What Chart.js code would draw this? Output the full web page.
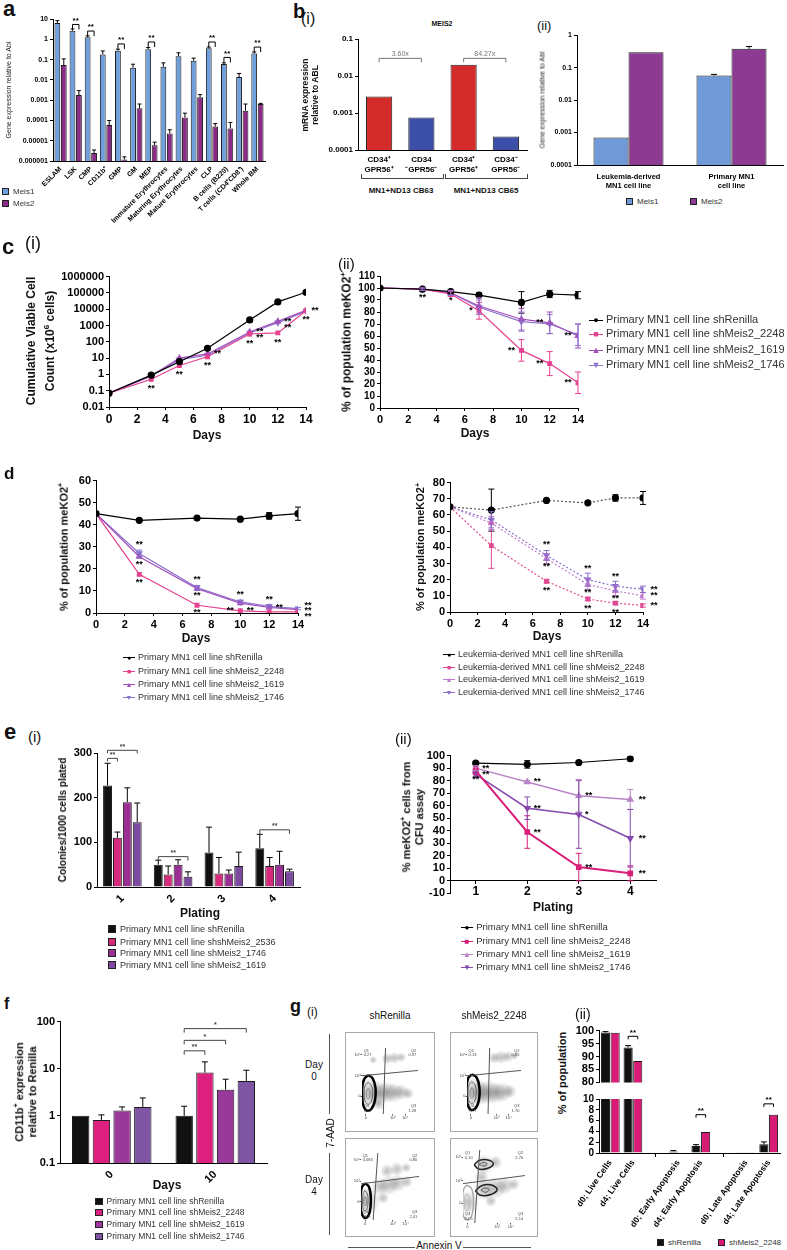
<!DOCTYPE html>
<html>
<head>
<meta charset="utf-8">
<title>Meis2 figure</title>
<script src="https://cdn.jsdelivr.net/npm/chart.js@4.4.1/dist/chart.umd.min.js"></script>
<style>
  html, body { margin: 0; background: #fff; }
  #fig { position: relative; width: 787px; height: 1250px; overflow: hidden; font-family: "Liberation Sans", Arial, sans-serif; color: #111; }
  #fig .t { position: absolute; white-space: nowrap; line-height: 1; }
  #fig canvas { position: absolute; }
</style>
</head>
<body>
<div id="fig"></div>
<script>
const FONT = '"Liberation Sans", Arial, sans-serif';

// a: Meis1 / Meis2 in sorted mouse populations
const aCats = ['ESLAM', 'LSK', 'CMP', 'CD11b⁺', 'GMP', 'GM', 'MEP', 'Immature Erythrocytes', 'Maturing Erythrocytes', 'Mature Erythrocytes', 'CLP', 'B cells (B220)', 'T cells (CD4⁺CD8⁺)', 'Whole BM'];
const aMeis1 = [6.5, 2.7, 1.3, 0.18, 0.28, 0.04, 0.33, 0.045, 0.15, 0.09, 0.37, 0.062, 0.014, 0.2];
const aMeis1Err = [8.5, 3.3, 1.5, 0.27, 0.33, 0.06, 0.4, 0.07, 0.22, 0.12, 0.42, 0.07, 0.021, 0.24];
const aMeis2 = [0.055, 0.0018, 0.0000025, 0.00006, 0.0000012, 0.0004, 0.000006, 0.000023, 0.00014, 0.0014, 0.00005, 0.00004, 0.0003, 0.00065];
const aMeis2Err = [0.11, 0.003, 0.0000035, 0.0001, 0.0000016, 0.00065, 0.0000085, 0.000035, 0.00023, 0.0019, 0.00007, 0.00008, 0.00065, 0.0007];
const aTicks = [1e-6, 1e-5, 1e-4, 1e-3, 1e-2, 0.1, 1, 10];
const aTickLabels = ['0.000001', '0.00001', '0.0001', '0.001', '0.01', '0.1', '1', '10'];
const aSigCats = [1, 2, 4, 6, 10, 11, 13];
const aSigY = [5.5, 2.6, 0.6, 0.75, 0.75, 0.13, 0.42];

// b(i): MEIS2 in human CD34+ GPR56 fractions
const b1Cats = [['CD34⁺', 'GPR56⁺'], ['CD34', '⁻GPR56⁻'], ['CD34⁺', 'GPR56⁺'], ['CD34⁻', 'GPR56⁻']];
const b1Vals = [0.0028, 0.00075, 0.02, 0.00023];
const b1Ticks = [1e-4, 1e-3, 1e-2, 0.1];
const b1TickLabels = ['0.0001', '0.001', '0.01', '0.1'];
const b1Folds = ['3.60x', '84.27x'];
const b1Groups = ['MN1+ND13 CB63', 'MN1+ND13 CB65'];

// b(ii)
const b2Cats = [['Leukemia-derived', 'MN1 cell line'], ['Primary MN1', 'cell line']];
const b2Meis1 = [0.0007, 0.057];
const b2Meis1Err = [null, 0.062];
const b2Meis2 = [0.3, 0.38];
const b2Meis2Err = [null, 0.45];
const b2Ticks = [1e-4, 1e-3, 1e-2, 0.1, 1];
const b2TickLabels = ['0.0001', '0.001', '0.01', '0.1', '1'];

// c: growth and meKO2+ fraction, primary MN1 line
const cNames = ['Primary MN1 cell line shRenilla', 'Primary MN1 cell line shMeis2_2248', 'Primary MN1 cell line shMeis2_1619', 'Primary MN1 cell line shMeis2_1746'];
const cDays = [0, 3, 5, 7, 10, 12, 14];
const c1Renilla = [0.07, 0.9, 6, 40, 2200, 28000, 110000];
const c1M2248 = [0.07, 0.5, 3.5, 12, 300, 350, 8000];
const c1M1619 = [0.07, 0.8, 10, 18, 400, 1800, 8500];
const c1M1746 = [0.07, 0.8, 8, 15, 350, 1500, 7500];
const c1Ticks = [0.01, 0.1, 1, 10, 100, 1000, 10000, 100000, 1000000];
const c1TickLabels = ['0.01', '0.1', '1', '10', '100', '1000', '10000', '100000', '1000000'];
const c2Renilla = [100, 99, 97, 94, 88, 95, 94];
const c2RenillaErr = [0, 1, 1, 2, 9, 3, 3];
const c2M2248 = [100, 99, 95, 81, 48, 37, 21];
const c2M2248Err = [0, 1, 2, 7, 9, 10, 9];
const c2M1619 = [100, 99, 96, 85, 74, 71, 60];
const c2M1619Err = [0, 1, 2, 7, 9, 9, 10];
const c2M1746 = [100, 99, 96, 84, 72, 70, 61];
const c2M1746Err = [0, 1, 2, 6, 8, 8, 9];

// d: competition assays
const dDays = [0, 3, 7, 10, 12, 14];
const d1Renilla = [45, 42, 43, 42.5, 44, 45];
const d1RenillaErr = [0, 0, 0, 0, 1.5, 3];
const d1M2248 = [45, 17.5, 3.5, 1, 0.5, 0.5];
const d1M1619 = [45, 25.5, 11, 4.5, 2.5, 1.5];
const d1M1746 = [45, 27, 11.5, 5, 3, 2];
const d1M1746Err = [0, 1.5, 1, 0.8, 0.8, 0.5];
const d2Names = ['Leukemia-derived MN1 cell line shRenilla', 'Leukemia-derived MN1 cell line shMeis2_2248', 'Leukemia-derived MN1 cell line shMeis2_1619', 'Leukemia-derived MN1 cell line shMeis2_1746'];
const d2Renilla = [65, 63, 69, 67.5, 70.5, 70.5];
const d2RenillaErr = [0, 13, 0, 0, 2, 4];
const d2M2248 = [65, 41, 19, 8, 5.5, 4];
const d2M2248Err = [0, 14, 1, 1, 1, 1];
const d2M1619 = [65, 55, 33, 17, 13, 10];
const d2M1619Err = [0, 4, 3, 3, 3, 2];
const d2M1746 = [65, 57, 35, 20, 16, 14];
const d2M1746Err = [0, 5, 3, 4, 3, 2];

// e(i): colony counts per plating
const eCats = ['1', '2', '3', '4'];
const e1Names = ['Primary MN1 cell line shRenilla', 'Primary MN1 cell line shshMeis2_2536', 'Primary MN1 cell line shMeis2_1746', 'Primary MN1 cell line shMeis2_1619'];
const e1Renilla = [227, 50, 77, 87];
const e1RenillaErr = [277, 60, 134, 118];
const e1M2536 = [110, 28, 30, 47];
const e1M2536Err = [123, 47, 66, 66];
const e1M1746 = [190, 50, 30, 50];
const e1M1746Err = [222, 61, 38, 80];
const e1M1619 = [145, 23, 47, 35];
const e1M1619Err = [188, 34, 78, 40];

// e(ii): meKO2+ from CFU assay
const e2Plating = [1, 2, 3, 4];
const e2Renilla = [94, 93, 94.5, 97.5];
const e2RenillaErr = [1, 3, 0, 0];
const e2M2248 = [88, 39, 11, 6];
const e2M2248Err = [3, 13, 11, 6];
const e2M1619 = [90, 79, 68, 65];
const e2M1619Err = [2, 1, 13, 8];
const e2M1746 = [85, 58, 53, 34];
const e2M1746Err = [2, 9, 27, 23];

// f: CD11b+ relative to Renilla
const fCats = ['0', '10'];
const fRenilla = [1, 1];
const fRenillaErr = [null, 1.6];
const fM2248 = [0.82, 8.3];
const fM2248Err = [1.05, 14];
const fM1619 = [1.3, 3.6];
const fM1619Err = [1.55, 6];
const fM1746 = [1.55, 5.5];
const fM1746Err = [2.4, 9.3];
const fTicks = [0.1, 1, 10, 100];
const fTickLabels = ['0.1', '1', '10', '100'];

// g(i): flow plots (axes 0..1 inside each frame)
const flowCols = ['shRenilla', 'shMeis2_2248'];
const flowGateV = [[[0.38, 0], [0.42, 1]], [[0.39, 0], [0.42, 1]], [[0.21, 0], [0.29, 1]], [[0.19, 0], [0.27, 1]]];
const flowGateH = [[[0, 0.58], [1, 0.66]], [[0, 0.58], [1, 0.66]], [[0, 0.54], [1, 0.65]], [[0, 0.54], [1, 0.65]]];
const flowContours = [
  [
    [[0.11, 0.59], [0.19, 0.54], [0.24, 0.40], [0.23, 0.20], [0.16, 0.07], [0.07, 0.06], [0.01, 0.18], [0.0, 0.38], [0.04, 0.53], [0.11, 0.59]],
    [[0.11, 0.48], [0.17, 0.43], [0.19, 0.31], [0.16, 0.18], [0.10, 0.15], [0.05, 0.21], [0.04, 0.34], [0.06, 0.44], [0.11, 0.48]],
    [[0.11, 0.39], [0.14, 0.35], [0.14, 0.27], [0.11, 0.23], [0.08, 0.26], [0.08, 0.34], [0.11, 0.39]]
  ],
  [
    [[0.09, 0.60], [0.18, 0.55], [0.23, 0.40], [0.22, 0.21], [0.15, 0.08], [0.06, 0.07], [0.0, 0.19], [-0.01, 0.39], [0.02, 0.54], [0.09, 0.60]],
    [[0.09, 0.49], [0.15, 0.44], [0.17, 0.32], [0.14, 0.19], [0.08, 0.16], [0.03, 0.22], [0.02, 0.35], [0.04, 0.45], [0.09, 0.49]],
    [[0.09, 0.40], [0.12, 0.36], [0.12, 0.28], [0.09, 0.24], [0.06, 0.27], [0.06, 0.35], [0.09, 0.40]]
  ],
  [
    [[0.07, 0.55], [0.14, 0.49], [0.17, 0.32], [0.15, 0.12], [0.08, 0.03], [0.01, 0.10], [-0.01, 0.30], [0.01, 0.48], [0.07, 0.55]],
    [[0.07, 0.44], [0.11, 0.39], [0.12, 0.27], [0.10, 0.16], [0.06, 0.14], [0.03, 0.20], [0.03, 0.33], [0.04, 0.41], [0.07, 0.44]],
    [[0.07, 0.35], [0.09, 0.31], [0.09, 0.24], [0.07, 0.21], [0.05, 0.24], [0.05, 0.31], [0.07, 0.35]]
  ],
  [
    [[0.06, 0.52], [0.14, 0.47], [0.17, 0.30], [0.14, 0.10], [0.06, 0.04], [0.0, 0.12], [-0.01, 0.31], [0.01, 0.46], [0.06, 0.52]],
    [[0.06, 0.40], [0.10, 0.36], [0.11, 0.26], [0.08, 0.17], [0.04, 0.18], [0.02, 0.27], [0.03, 0.36], [0.06, 0.40]],
    [[0.18, 0.80], [0.27, 0.86], [0.42, 0.86], [0.49, 0.81], [0.40, 0.75], [0.25, 0.74], [0.18, 0.80]],
    [[0.26, 0.80], [0.32, 0.83], [0.39, 0.81], [0.34, 0.78], [0.26, 0.80]],
    [[0.20, 0.44], [0.30, 0.51], [0.46, 0.52], [0.55, 0.46], [0.45, 0.39], [0.28, 0.38], [0.20, 0.44]],
    [[0.29, 0.45], [0.35, 0.48], [0.42, 0.46], [0.37, 0.42], [0.29, 0.45]]
  ]
];
const flowClouds = [
  [[0.12, 0.32, 16], [0.3, 0.31, 12], [0.44, 0.33, 11], [0.57, 0.32, 10], [0.7, 0.33, 8], [0.82, 0.31, 6], [0.45, 0.84, 6], [0.58, 0.85, 6], [0.7, 0.86, 5], [0.3, 0.15, 6], [0.2, 0.82, 4]],
  [[0.1, 0.33, 16], [0.27, 0.32, 12], [0.4, 0.33, 12], [0.53, 0.32, 11], [0.66, 0.33, 10], [0.79, 0.34, 7], [0.5, 0.85, 6], [0.63, 0.86, 7], [0.76, 0.87, 6], [0.88, 0.88, 4]],
  [[0.08, 0.28, 15], [0.33, 0.5, 9], [0.48, 0.52, 10], [0.63, 0.55, 9], [0.79, 0.57, 6], [0.45, 0.73, 7], [0.62, 0.76, 7], [0.78, 0.78, 5], [0.38, 0.33, 6]],
  [[0.07, 0.28, 12], [0.34, 0.8, 10], [0.52, 0.83, 7], [0.34, 0.46, 11], [0.52, 0.48, 11], [0.67, 0.51, 9], [0.82, 0.53, 6], [0.3, 0.63, 7], [0.45, 0.3, 6]]
];
const flowQuad = [['0,27', '0,37', '98,2', '1,28'], ['0,13', '0,85', '97,7', '1,70'], ['0,083', '0,80', '96,8', '2,41'], ['0,10', '2,76', '91,5', '5,14']];
const flowXTicks = [0.07, 0.55, 0.77];
const flowYTicks = [0.27, 0.58, 0.9];
const flowTickLabels = ['0', '10³', '10⁴'];

// g(ii): viability / apoptosis (broken axis)
const g2Cats = ['d0; Live Cells', 'd4; Live Cells', '', 'd0; Early Apoptosis', 'd4; Early Apoptosis', '', 'd0; Late Apoptosis', 'd4; Late Apoptosis'];
const g2Renilla = [99.3, 93.5, null, 0.3, 1.3, null, 0.05, 1.6];
const g2RenillaErr = [99.6, 94.2, null, 0.45, 1.55, null, null, 2.05];
const g2M2248 = [99.2, 88.3, null, 0.1, 3.9, null, 0.05, 7.1];

// ---------------------------------------------------------------- helpers
const fig = document.getElementById('fig');
Chart.defaults.font.family = FONT;
Chart.defaults.color = '#000';

function txt(html, x, y, css) {
  const d = document.createElement('div');
  d.className = 't';
  d.innerHTML = html;
  d.style.cssText = 'left:' + x + 'px;top:' + y + 'px;' + (css || '');
  fig.appendChild(d);
  return d;
}
const ctxt = (h, cx, cy, css) => txt(h, cx, cy, 'transform:translate(-50%,-50%);text-align:center;' + (css || ''));
const vtxt = (h, cx, cy, css) => txt(h, cx, cy, 'transform:translate(-50%,-50%) rotate(-90deg);text-align:center;' + (css || ''));

function boxLegend(x, y, color, label, fs) {
  txt('<span style="display:inline-block;width:' + (fs - 1) + 'px;height:' + (fs - 1) + 'px;background:' + color +
      ';border:1px solid #222;box-sizing:border-box;vertical-align:-1px;margin-right:4px"></span>' + label,
      x, y - fs * 0.55, 'font-size:' + fs + 'px;color:#333');
}
function lineLegend(x, y, color, sym, label, fs) {
  const w = fs + 3;
  txt('<span style="display:inline-block;width:' + w + 'px;text-align:center;color:' + color + ';font-size:' + Math.round(fs * 0.8) +
      'px;background:linear-gradient(' + color + ',' + color + ') center/100% 1px no-repeat;margin-right:3px">' + sym + '</span>' + label,
      x - w / 2, y - fs * 0.55, 'font-size:' + fs + 'px;color:#333');
}

function merge(a, b) {
  for (const k in b) {
    if (b[k] && typeof b[k] === 'object' && !Array.isArray(b[k]) && a[k] && typeof a[k] === 'object') merge(a[k], b[k]);
    else a[k] = b[k];
  }
  return a;
}
function axis(size, extra) {
  return merge({
    grid: { drawOnChartArea: false, color: '#000', tickLength: 3, lineWidth: 1 },
    border: { color: '#000', width: 1 },
    ticks: { color: '#000', font: { family: FONT, size: size, weight: 'bold' }, padding: 2, autoSkip: false, maxRotation: 0, minRotation: 0 }
  }, extra || {});
}
function fixedTicks(vals, labels) {
  return {
    afterBuildTicks: s => { s.ticks = vals.map(v => ({ value: v })); },
    ticks: { callback: (v, i) => (labels ? labels[i] : v) }
  };
}

// error bars: ds.err[j] = [lo, hi] in data units (lo null -> from the mark)
const errPlugin = {
  id: 'errbars',
  afterDatasetsDraw(chart) {
    const ctx = chart.ctx, ys = chart.scales.y;
    chart.data.datasets.forEach((ds, di) => {
      if (!ds.err) return;
      const meta = chart.getDatasetMeta(di);
      ctx.save();
      ctx.strokeStyle = ds.errColor || ds.borderColor;
      ctx.lineWidth = 1;
      meta.data.forEach((el, j) => {
        const e = ds.err[j];
        if (!e) return;
        const cap = ds.errCap || 3;
        const y1 = ys.getPixelForValue(e[1]);
        const y0 = e[0] == null ? el.y : ys.getPixelForValue(Math.max(e[0], ys.min));
        ctx.beginPath();
        ctx.moveTo(el.x, y0); ctx.lineTo(el.x, y1);
        ctx.moveTo(el.x - cap, y1); ctx.lineTo(el.x + cap, y1);
        if (e[0] != null) { ctx.moveTo(el.x - cap, y0); ctx.lineTo(el.x + cap, y0); }
        ctx.stroke();
      });
      ctx.restore();
    });
  }
};
Chart.register(errPlugin);

function drawNotes(chart, spec) {
  const ctx = chart.ctx;
  const font = spec.font || 'bold 9px ' + FONT;
  (spec.items || []).forEach(it => {
    let x, y;
    if (it.ds != null) { const p = chart.getDatasetMeta(it.ds).data[it.i]; x = p.x; y = p.y; }
    else { x = chart.scales.x.getPixelForValue(it.x); y = chart.scales.y.getPixelForValue(it.y); }
    x += it.dx || 0; y += it.dy || 0;
    ctx.save();
    ctx.font = font; ctx.fillStyle = spec.color || '#000';
    ctx.textAlign = it.align || 'center'; ctx.textBaseline = 'middle';
    String(it.text).split('\n').forEach((ln, k) => ctx.fillText(ln, x, y + k * (spec.lh || 6)));
    ctx.restore();
  });
  (spec.brackets || []).forEach(b => {
    const pa = chart.getDatasetMeta(b.a[0]).data[b.a[1]], pb = chart.getDatasetMeta(b.b[0]).data[b.b[1]];
    const y = chart.scales.y.getPixelForValue(b.y), leg = b.leg == null ? 4 : b.leg;
    ctx.save();
    ctx.strokeStyle = spec.bcolor || '#000'; ctx.lineWidth = 1;
    ctx.beginPath();
    ctx.moveTo(pa.x, y + leg); ctx.lineTo(pa.x, y); ctx.lineTo(pb.x, y); ctx.lineTo(pb.x, y + leg);
    ctx.stroke();
    if (b.text) {
      ctx.font = spec.bfont || font; ctx.fillStyle = spec.bcolor || '#000';
      ctx.textAlign = 'center'; ctx.textBaseline = 'bottom';
      ctx.fillText(b.text, (pa.x + pb.x) / 2, y + (spec.bdy || 0));
    }
    ctx.restore();
  });
}

// plot = [left, top, right, bottom] of the chart area on the page
function chartAt(plot, geo, config, spec) {
  const yw = geo.yw, xh = geo.xh || 0, pt = geo.pt || 8, pr = geo.pr || 4, pb = geo.pb || 0;
  const left = plot[0] - yw, top = plot[1] - pt;
  const w = plot[2] + pr - left, h = plot[3] + xh + pb - top;
  const c = document.createElement('canvas');
  c.style.left = left + 'px'; c.style.top = top + 'px';
  c.style.width = w + 'px'; c.style.height = h + 'px';
  c.width = w; c.height = h;
  fig.appendChild(c);
  const o = config.options = config.options || {};
  o.responsive = false; o.animation = false;
  o.layout = { padding: { top: pt, right: pr, bottom: pb, left: 0 } };
  o.plugins = Object.assign({ legend: { display: false }, tooltip: { enabled: false } }, o.plugins || {});
  o.scales.y.afterFit = s => { s.width = yw; };
  if (o.scales.x.display !== false && xh > 0) o.scales.x.afterFit = s => { s.height = xh; };
  config.plugins = [{ id: 'notes', afterDraw: ch => drawNotes(ch, spec || {}) }];
  return new Chart(c, config);
}

const MARK = ['circle', 'rect', 'triangle', 'triangle'];
const MROT = [0, 0, 0, 180];
const SYM = ['●', '■', '▲', '▼'];
function lineSet(xs, ys, color, k, err, extra) {
  return Object.assign({
    data: xs.map((x, i) => ({ x: x, y: ys[i] })),
    borderColor: color, backgroundColor: color,
    pointStyle: MARK[k], pointRotation: MROT[k], pointRadius: k === 1 ? 2.6 : 3,
    borderWidth: 1.2, tension: 0,
    err: err ? ys.map((v, i) => (err[i] ? [v - err[i], v + err[i]] : null)) : null
  }, extra || {});
}
function barSet(vals, hi, color, extra) {
  return Object.assign({
    data: vals, backgroundColor: color, borderColor: '#1a1a1a', borderWidth: 1, errColor: '#000',
    err: hi ? hi.map(v => (v == null ? null : [null, v])) : null
  }, extra || {});
}
const daysAxis = size => axis(size, { type: 'linear', min: 0, max: 14, ticks: { stepSize: 2 } });
// soft grey cloud for the flow dot plots
function cloudFill(c) {
  const raw = c.raw, ch = c.chart;
  const flat = 'rgba(40,40,40,0.12)';
  if (!raw || !ch.scales || !ch.scales.x || !ch.scales.y) return flat;
  const x = ch.scales.x.getPixelForValue(raw.x), y = ch.scales.y.getPixelForValue(raw.y);
  if (!isFinite(x) || !isFinite(y) || !isFinite(raw.r)) return flat;
  const g = ch.ctx.createRadialGradient(x, y, 0, x, y, Math.max(raw.r, 1));
  g.addColorStop(0, 'rgba(40,40,40,0.30)');
  g.addColorStop(0.6, 'rgba(40,40,40,0.14)');
  g.addColorStop(1, 'rgba(40,40,40,0)');
  return g;
}

const B = 'font-weight:bold;';

// ---------------------------------------------------------------- a
txt('a', 3, -2, B + 'font-size:22px');
chartAt([53, 19, 265, 161], { yw: 53, xh: 75, pt: 6, pr: 4 }, {
  type: 'bar',
  data: {
    labels: aCats,
    datasets: [
      barSet(aMeis1, aMeis1Err, '#6f9fdd', { errCap: 2 }),
      barSet(aMeis2, aMeis2Err, '#8a2b86', { errCap: 2 })
    ]
  },
  options: {
    datasets: { bar: { barPercentage: 0.9, categoryPercentage: 0.85 } },
    scales: {
      x: axis(7, { grid: { display: false }, ticks: { minRotation: 45, maxRotation: 45, padding: 1 } }),
      y: axis(7, merge({ type: 'logarithmic', min: 1e-6, max: 10 }, fixedTicks(aTicks, aTickLabels)))
    }
  }
}, { brackets: aSigCats.map((c, k) => ({ a: [0, c], b: [1, c], y: aSigY[k], text: '**', leg: 5 })), bfont: 'bold 8px ' + FONT });
vtxt('Gene expression relative to Abl', 8, 90, 'font-size:7px;color:#222');
boxLegend(2, 192, '#6f9fdd', 'Meis1', 8);
boxLegend(2, 204, '#8a2b86', 'Meis2', 8);

// ---------------------------------------------------------------- b(i)
txt('b', 293, 1, B + 'font-size:20px');
txt('(i)', 301, 11, 'font-size:16px');
ctxt('MEIS2', 442, 23, B + 'font-size:7px');
chartAt([358, 39, 527, 150], { yw: 56, xh: 22, pt: 8, pr: 4 }, {
  type: 'bar',
  data: {
    labels: b1Cats,
    datasets: [barSet(b1Vals, null, ['#d42b2b', '#3b4ea8', '#d42b2b', '#3b4ea8'], { borderColor: '#222', barPercentage: 0.62, categoryPercentage: 1 })]
  },
  options: {
    scales: {
      x: axis(8, { grid: { display: false }, ticks: { padding: 2 } }),
      y: axis(8, merge({ type: 'logarithmic', min: 1e-4, max: 0.1 }, fixedTicks(b1Ticks, b1TickLabels)))
    }
  }
}, { brackets: [{ a: [0, 0], b: [0, 1], y: 0.03, text: b1Folds[0] }, { a: [0, 2], b: [0, 3], y: 0.03, text: b1Folds[1] }],
     bcolor: '#777', bfont: '7px ' + FONT, bdy: -1 });
vtxt('mRNA expression<br>relative to ABL', 311, 95, B + 'font-size:8.5px;line-height:1.15');
txt('', 361, 174, 'width:81px;height:4px;border:1px solid #444;border-top:none');
txt('', 445, 174, 'width:81px;height:4px;border:1px solid #444;border-top:none');
ctxt(b1Groups[0], 401, 191, B + 'font-size:8px');
ctxt(b1Groups[1], 486, 191, B + 'font-size:8px');

// ---------------------------------------------------------------- b(ii)
txt('(ii)', 537, 19, 'font-size:13px');
chartAt([577, 35, 783, 165], { yw: 45, xh: 24, pt: 6, pr: 3 }, {
  type: 'bar',
  data: {
    labels: b2Cats,
    datasets: [
      barSet(b2Meis1, b2Meis1Err, '#7099d8', { barPercentage: 1, categoryPercentage: 0.68 }),
      barSet(b2Meis2, b2Meis2Err, '#8d3b92', { barPercentage: 1, categoryPercentage: 0.68 })
    ]
  },
  options: {
    scales: {
      x: axis(7.5, { grid: { display: false }, ticks: { padding: 4 } }),
      y: axis(7, merge({ type: 'logarithmic', min: 1e-4, max: 1 }, fixedTicks(b2Ticks, b2TickLabels)))
    }
  }
});
vtxt('Gene expression relative to Abl', 542, 100, 'font-size:7px;color:#222');
boxLegend(626, 202, '#7099d8', 'Meis1', 8);
boxLegend(690, 202, '#8d3b92', 'Meis2', 8);

// ---------------------------------------------------------------- c(i)
const cColors = ['#000', '#e5418f', '#a24db8', '#8c74cf'];
txt('c', 2, 236, B + 'font-size:22px');
txt('(i)', 25, 234, 'font-size:18px');
chartAt([109, 276, 306, 407], { yw: 60, xh: 22, pt: 8, pr: 26 }, {
  type: 'line',
  data: {
    datasets: [
      lineSet(cDays, c1Renilla, cColors[0], 0),
      lineSet(cDays, c1M2248, cColors[1], 1),
      lineSet(cDays, c1M1619, cColors[2], 2),
      lineSet(cDays, c1M1746, cColors[3], 3)
    ]
  },
  options: {
    scales: {
      x: daysAxis(12),
      y: axis(11, merge({ type: 'logarithmic', min: 0.01, max: 1000000 }, fixedTicks(c1Ticks, c1TickLabels)))
    }
  }
}, { items: [
  { ds: 1, i: 1, text: '**', dy: 9 }, { ds: 1, i: 2, text: '**', dy: 9 }, { ds: 1, i: 3, text: '**', dy: 9 },
  { ds: 2, i: 3, text: '**', dx: 10 }, { ds: 1, i: 4, text: '**', dy: 9 }, { ds: 2, i: 4, text: '**', dx: 10 },
  { ds: 3, i: 4, text: '**', dx: 10, dy: 5 }, { ds: 1, i: 5, text: '**', dy: 10 }, { ds: 2, i: 5, text: '**', dx: 10 },
  { ds: 3, i: 5, text: '**', dx: 10, dy: 5 }, { ds: 1, i: 6, text: '**', dy: 9 }, { ds: 2, i: 6, text: '**', dx: 9 }
] });
vtxt('Cumulative Viable Cell<br>Count (x10<sup style="font-size:8px">6</sup> cells)', 41, 341, B + 'font-size:12px;line-height:15px');
ctxt('Days', 207, 435, B + 'font-size:12px');

// ---------------------------------------------------------------- c(ii)
txt('(ii)', 338, 256, 'font-size:15px');
chartAt([380, 276, 578, 408], { yw: 36, xh: 22, pt: 8, pr: 12 }, {
  type: 'line',
  data: {
    datasets: [
      lineSet(cDays, c2Renilla, cColors[0], 0, c2RenillaErr),
      lineSet(cDays, c2M2248, cColors[1], 1, c2M2248Err),
      lineSet(cDays, c2M1619, cColors[2], 2, c2M1619Err),
      lineSet(cDays, c2M1746, cColors[3], 3, c2M1746Err)
    ]
  },
  options: {
    scales: {
      x: daysAxis(11),
      y: axis(10, { type: 'linear', min: 0, max: 110, ticks: { stepSize: 10 } })
    }
  }
}, { items: [
  { ds: 1, i: 1, text: '**', dy: 8 }, { ds: 1, i: 2, text: '*', dy: 7 }, { ds: 1, i: 3, text: '*', dx: -8 },
  { ds: 1, i: 4, text: '**', dx: -10 }, { ds: 1, i: 5, text: '**', dx: -10 }, { ds: 1, i: 6, text: '**', dx: -10 },
  { ds: 2, i: 5, text: '**', dx: -10 }, { ds: 2, i: 6, text: '**', dx: -10 }
] });
vtxt('% of population meKO2<sup style="font-size:8px">+</sup>', 346, 342, B + 'font-size:12px');
ctxt('Days', 475, 433, B + 'font-size:12px');
cNames.forEach((n, k) => lineLegend(596, [320, 334, 350, 365][k], cColors[k], SYM[k], n, 11));

// ---------------------------------------------------------------- d
txt('d', 4, 465, B + 'font-size:17px');
chartAt([96, 480, 298, 613], { yw: 28, xh: 22, pt: 8, pr: 22 }, {
  type: 'line',
  data: {
    datasets: [
      lineSet(dDays, d1Renilla, cColors[0], 0, d1RenillaErr),
      lineSet(dDays, d1M2248, cColors[1], 1),
      lineSet(dDays, d1M1619, cColors[2], 2),
      lineSet(dDays, d1M1746, cColors[3], 3, d1M1746Err)
    ]
  },
  options: {
    scales: {
      x: daysAxis(11),
      y: axis(11, { type: 'linear', min: 0, max: 60, ticks: { stepSize: 10 } })
    }
  }
}, { items: [
  { ds: 3, i: 1, text: '**', dy: -9 }, { ds: 2, i: 1, text: '**', dy: 8 }, { ds: 1, i: 1, text: '**', dy: 8 },
  { ds: 3, i: 2, text: '**', dy: -8 }, { ds: 2, i: 2, text: '**', dy: 7 }, { ds: 1, i: 2, text: '**', dy: 7 },
  { ds: 3, i: 3, text: '**', dy: -7 }, { ds: 1, i: 3, text: '**', dx: -10 }, { ds: 1, i: 3, text: '**', dx: 10 },
  { ds: 3, i: 4, text: '**', dy: -7 }, { ds: 2, i: 4, text: '**', dx: 10 },
  { ds: 3, i: 5, text: '**', dx: 10, dy: -3 }, { ds: 2, i: 5, text: '**', dx: 10, dy: 1 }, { ds: 1, i: 5, text: '**', dx: 10, dy: 5 }
] });
vtxt('% of population meKO2<sup style="font-size:7px">+</sup>', 63, 547, B + 'font-size:11px');
ctxt('Days', 196, 638, B + 'font-size:12px');
cNames.forEach((n, k) => lineLegend(129, [658, 672, 685, 698][k], cColors[k], SYM[k], n, 9));

const d2Colors = ['#000', '#e04a93', '#c27bd1', '#8b6cc9'];
chartAt([450, 482, 643, 612], { yw: 28, xh: 22, pt: 8, pr: 22 }, {
  type: 'line',
  data: {
    datasets: [
      lineSet(dDays, d2Renilla, d2Colors[0], 0, d2RenillaErr, { borderDash: [2, 2], borderColor: '#555', pointBorderColor: '#000', pointBackgroundColor: '#000', errColor: '#000' }),
      lineSet(dDays, d2M2248, d2Colors[1], 1, d2M2248Err, { borderDash: [2, 2] }),
      lineSet(dDays, d2M1619, d2Colors[2], 2, d2M1619Err, { borderDash: [2, 2] }),
      lineSet(dDays, d2M1746, d2Colors[3], 3, d2M1746Err, { borderDash: [2, 2] })
    ]
  },
  options: {
    scales: {
      x: daysAxis(11),
      y: axis(11, { type: 'linear', min: 0, max: 80, ticks: { stepSize: 10 } })
    }
  }
}, { items: [
  { ds: 3, i: 2, text: '**', dy: -11 }, { ds: 2, i: 2, text: '**', dy: 8 }, { ds: 1, i: 2, text: '**', dy: 9 },
  { ds: 3, i: 3, text: '**', dy: -11 }, { ds: 2, i: 3, text: '**', dy: 8 }, { ds: 1, i: 3, text: '**', dy: 9 },
  { ds: 3, i: 4, text: '**', dy: -10 }, { ds: 2, i: 4, text: '**', dy: 8 }, { ds: 1, i: 4, text: '**', dy: 9 },
  { ds: 3, i: 5, text: '**', dx: 11 }, { ds: 2, i: 5, text: '**', dx: 11 }, { ds: 1, i: 5, text: '**', dx: 11 }
] });
vtxt('% of population meKO2<sup style="font-size:7px">+</sup>', 420, 547, B + 'font-size:11px');
ctxt('Days', 547, 636, B + 'font-size:12px');
d2Names.forEach((n, k) => lineLegend(449, [655, 668, 680, 693][k], d2Colors[k], SYM[k], n, 9));

// ---------------------------------------------------------------- e(i)
const eColors = ['#111', '#d62a7c', '#9a2f94', '#7c4a9e'];
txt('e', 4, 721, B + 'font-size:22px');
txt('(i)', 28, 729, 'font-size:15px');
chartAt([97, 753, 300, 887], { yw: 30, xh: 22, pt: 14, pr: 4 }, {
  type: 'bar',
  data: {
    labels: eCats,
    datasets: [
      barSet(e1Renilla, e1RenillaErr, eColors[0]),
      barSet(e1M2536, e1M2536Err, eColors[1]),
      barSet(e1M1746, e1M1746Err, eColors[2]),
      barSet(e1M1619, e1M1619Err, eColors[3])
    ]
  },
  options: {
    datasets: { bar: { barPercentage: 0.9, categoryPercentage: 0.78 } },
    scales: {
      x: axis(11, { grid: { display: false }, ticks: { minRotation: 45, maxRotation: 45 } }),
      y: axis(11, { type: 'linear', min: 0, max: 300, ticks: { stepSize: 100 }, border: { dash: [2, 1] } })
    }
  }
}, { brackets: [
  { a: [0, 0], b: [1, 0], y: 288, text: '**', leg: 3 },
  { a: [0, 0], b: [3, 0], y: 306, text: '**', leg: 3 },
  { a: [0, 1], b: [3, 1], y: 68, text: '**', leg: 4 },
  { a: [0, 3], b: [3, 3], y: 128, text: '**', leg: 4 }
], bfont: 'bold 7px ' + FONT, bcolor: '#444' });
vtxt('Colonies/1000 cells plated', 63, 820, B + 'font-size:10px');
ctxt('Plating', 200, 913, B + 'font-size:12px');
e1Names.forEach((n, k) => boxLegend(108, [930, 943, 954, 966][k], eColors[k], n, 9));

// ---------------------------------------------------------------- e(ii)
const e2Colors = ['#000', '#d8207a', '#b985c9', '#8549ad'];
txt('(ii)', 395, 731, 'font-size:15px');
chartAt([450, 755, 658, 894], { yw: 40, xh: 0, pt: 8, pb: 8, pr: 4 }, {
  type: 'line',
  data: {
    datasets: [
      lineSet(e2Plating, e2Renilla, e2Colors[0], 0, e2RenillaErr),
      lineSet(e2Plating, e2M2248, e2Colors[1], 1, e2M2248Err, { borderWidth: 2 }),
      lineSet(e2Plating, e2M1619, e2Colors[2], 2, e2M1619Err, { borderWidth: 1.5 }),
      lineSet(e2Plating, e2M1746, e2Colors[3], 3, e2M1746Err, { borderWidth: 1.5 })
    ]
  },
  options: {
    scales: {
      x: axis(12, merge({ type: 'linear', min: 0.5, max: 4.5, position: { y: 0 }, ticks: { padding: 1 } }, fixedTicks(e2Plating))),
      y: axis(11, { type: 'linear', min: -10, max: 100, ticks: { stepSize: 10 } })
    }
  }
}, { items: [
  { ds: 2, i: 0, text: '**', dx: 10 }, { ds: 3, i: 0, text: '**', dx: 10 }, { ds: 1, i: 0, text: '**', dy: 9 },
  { ds: 2, i: 1, text: '**', dx: 10 }, { ds: 3, i: 1, text: '**', dx: 10 }, { ds: 1, i: 1, text: '**', dx: 10 },
  { ds: 2, i: 2, text: '**', dx: 10 }, { ds: 3, i: 2, text: '*', dx: 8 }, { ds: 1, i: 2, text: '**', dx: 10 },
  { ds: 2, i: 3, text: '**', dx: 12 }, { ds: 3, i: 3, text: '**', dx: 12 }, { ds: 1, i: 3, text: '**', dx: 12 }
] });
vtxt('% meKO2<sup style="font-size:7px">+</sup> cells from<br>CFU assay', 411, 817, B + 'font-size:11px;line-height:13px');
ctxt('Plating', 553, 907, B + 'font-size:12px');
cNames.forEach((n, k) => lineLegend(467, [927, 941, 954, 967][k], e2Colors[k], SYM[k], n, 9.5));

// ---------------------------------------------------------------- f
const fColors = ['#111', '#dd1f7e', '#993a9a', '#7d55a3'];
txt('f', 4, 996, B + 'font-size:16px');
chartAt([60, 1021, 267, 1163], { yw: 30, xh: 22, pt: 8, pr: 4 }, {
  type: 'bar',
  data: {
    labels: fCats,
    datasets: [
      barSet(fRenilla, fRenillaErr, fColors[0]),
      barSet(fM2248, fM2248Err, fColors[1]),
      barSet(fM1619, fM1619Err, fColors[2]),
      barSet(fM1746, fM1746Err, fColors[3])
    ]
  },
  options: {
    datasets: { bar: { barPercentage: 0.84, categoryPercentage: 0.8 } },
    scales: {
      x: axis(11, { grid: { display: false }, ticks: { minRotation: 45, maxRotation: 45 } }),
      y: axis(11, merge({ type: 'logarithmic', min: 0.1, max: 100 }, fixedTicks(fTicks, fTickLabels)))
    }
  }
}, { brackets: [
  { a: [0, 1], b: [1, 1], y: 24, text: '**', leg: 4 },
  { a: [0, 1], b: [2, 1], y: 40, text: '*', leg: 4 },
  { a: [0, 1], b: [3, 1], y: 71, text: '*', leg: 4 }
], bfont: 'bold 7px ' + FONT, bcolor: '#444' });
vtxt('CD11b<sup style="font-size:7px">+</sup> expression<br>relative to Renilla', 24, 1092, B + 'font-size:11px;line-height:13px');
ctxt('Days', 167, 1185, B + 'font-size:12px');
cNames.forEach((n, k) => boxLegend(95, [1202, 1213, 1225, 1237][k], fColors[k], n, 8.5));

// ---------------------------------------------------------------- g(i)
txt('g', 290, 997, B + 'font-size:18px');
txt('(i)', 307, 1006, 'font-size:12px');
const flowBoxes = [[345, 1032, 435, 1132], [450, 1032, 538, 1132], [345, 1138, 435, 1237], [450, 1138, 538, 1237]];
const flowInk = [['#000', '#666', '#888'], ['#000', '#666', '#888'], ['#000', '#666', '#888'], ['#aaa', '#bbb', '#222', '#555', '#222', '#555']];
const flowLw = [[2.5, 1, 1], [2.5, 1, 1], [2.5, 1, 1], [1.5, 1, 1.5, 1, 1.5, 1]];
flowBoxes.forEach((bx, k) => {
  txt('', bx[0], bx[1], 'width:' + (bx[2] - bx[0] - 2) + 'px;height:' + (bx[3] - bx[1] - 2) + 'px;border:1px solid #a8a8a8');
  const pts = arr => arr.map(p => ({ x: p[0], y: p[1] }));
  const sets = [
    { type: 'line', data: pts(flowGateV[k]), borderColor: '#555', borderWidth: 1, pointRadius: 0 },
    { type: 'line', data: pts(flowGateH[k]), borderColor: '#555', borderWidth: 1, pointRadius: 0 }
  ];
  flowContours[k].forEach((cn, j) => sets.push({ type: 'line', data: pts(cn), borderColor: flowInk[k][j], borderWidth: flowLw[k][j], pointRadius: 0, tension: 0.4, fill: false }));
  sets.push({ type: 'bubble', data: flowClouds[k].map(p => ({ x: p[0], y: p[1], r: p[2] })), backgroundColor: cloudFill, borderWidth: 0 });
  const q = flowQuad[k];
  chartAt([bx[0] + 8, bx[1] + 3, bx[2] - 3, bx[3] - 8], { yw: 7, xh: 6, pt: 3, pr: 2 }, {
    type: 'scatter',
    data: { datasets: sets },
    options: {
      scales: {
        x: axis(4, merge({ type: 'linear', min: 0, max: 1, border: { display: false }, grid: { tickLength: 1.5, color: '#555' },
                           ticks: { font: { weight: 'normal' }, color: '#444', padding: 0 } }, fixedTicks(flowXTicks, flowTickLabels))),
        y: axis(4, merge({ type: 'linear', min: 0, max: 1, border: { display: false }, grid: { tickLength: 1.5, color: '#555' },
                           ticks: { font: { weight: 'normal' }, color: '#444', padding: 0 } }, fixedTicks(flowYTicks, flowTickLabels)))
      }
    }
  }, { font: '4px ' + FONT, color: '#444', lh: 4.5, items: [
    { x: 0.03, y: 0.96, text: 'Q1\n' + q[0], align: 'left' },
    { x: 0.97, y: 0.96, text: 'Q2\n' + q[1], align: 'right' },
    { x: 0.03, y: 0.12, text: 'Q4\n' + q[2], align: 'left' },
    { x: 0.97, y: 0.12, text: 'Q3\n' + q[3], align: 'right' }
  ] });
});
ctxt(flowCols[0], 390, 1016, 'font-size:10px');
ctxt(flowCols[1], 494, 1016, 'font-size:10px');
ctxt('Day<br>0', 314, 1071, 'font-size:10px;line-height:12px');
ctxt('Day<br>4', 314, 1186, 'font-size:10px;line-height:12px');
txt('', 329, 1034, 'width:0;height:80px;border-left:1px solid #555');
txt('', 329, 1153, 'width:0;height:82px;border-left:1px solid #555');
vtxt('7-AAD', 331, 1133, 'font-size:10px');
txt('', 348, 1247, 'width:67px;height:0;border-top:1px solid #555');
txt('', 463, 1247, 'width:68px;height:0;border-top:1px solid #555');
ctxt('Annexin V', 439, 1246, 'font-size:10px');

// ---------------------------------------------------------------- g(ii)
txt('(ii)', 575, 1007, 'font-size:14px');
chartAt([599, 1029, 780, 1085], { yw: 28, pt: 7, pb: 6, pr: 4 }, {
  type: 'bar',
  data: {
    labels: g2Cats,
    datasets: [barSet(g2Renilla, g2RenillaErr, '#111'), barSet(g2M2248, null, '#d81b74')]
  },
  options: {
    datasets: { bar: { barPercentage: 0.95, categoryPercentage: 0.85 } },
    scales: {
      x: { display: false },
      y: axis(11, { type: 'linear', min: 80, max: 100, ticks: { stepSize: 5 } })
    }
  }
}, { brackets: [{ a: [0, 1], b: [1, 1], y: 97.8, text: '**', leg: 3 }], bfont: 'bold 8px ' + FONT });
chartAt([599, 1097, 780, 1153], { yw: 28, xh: 85, pt: 6, pr: 4 }, {
  type: 'bar',
  data: {
    labels: g2Cats,
    datasets: [barSet(g2Renilla, g2RenillaErr, '#111'), barSet(g2M2248, null, '#d81b74')]
  },
  options: {
    datasets: { bar: { barPercentage: 0.95, categoryPercentage: 0.85 } },
    scales: {
      x: axis(8.5, {
        grid: { offset: false, tickLength: 4, color: c => (g2Cats[c.index] === '' ? '#000' : 'rgba(0,0,0,0)') },
        ticks: { minRotation: 55, maxRotation: 55, padding: 1 }
      }),
      y: axis(10, { type: 'linear', min: 0, max: 10, ticks: { stepSize: 2 } })
    }
  }
}, { brackets: [
  { a: [0, 4], b: [1, 4], y: 7.1, text: '**', leg: 3 },
  { a: [0, 7], b: [1, 7], y: 9.1, text: '**', leg: 3 }
], bfont: 'bold 8px ' + FONT });
vtxt('% of population', 562, 1073, B + 'font-size:11px');
boxLegend(657, 1243, '#111', 'shRenilla', 8);
boxLegend(718, 1243, '#d81b74', 'shMeis2_2248', 8);
</script>
</body>
</html>
